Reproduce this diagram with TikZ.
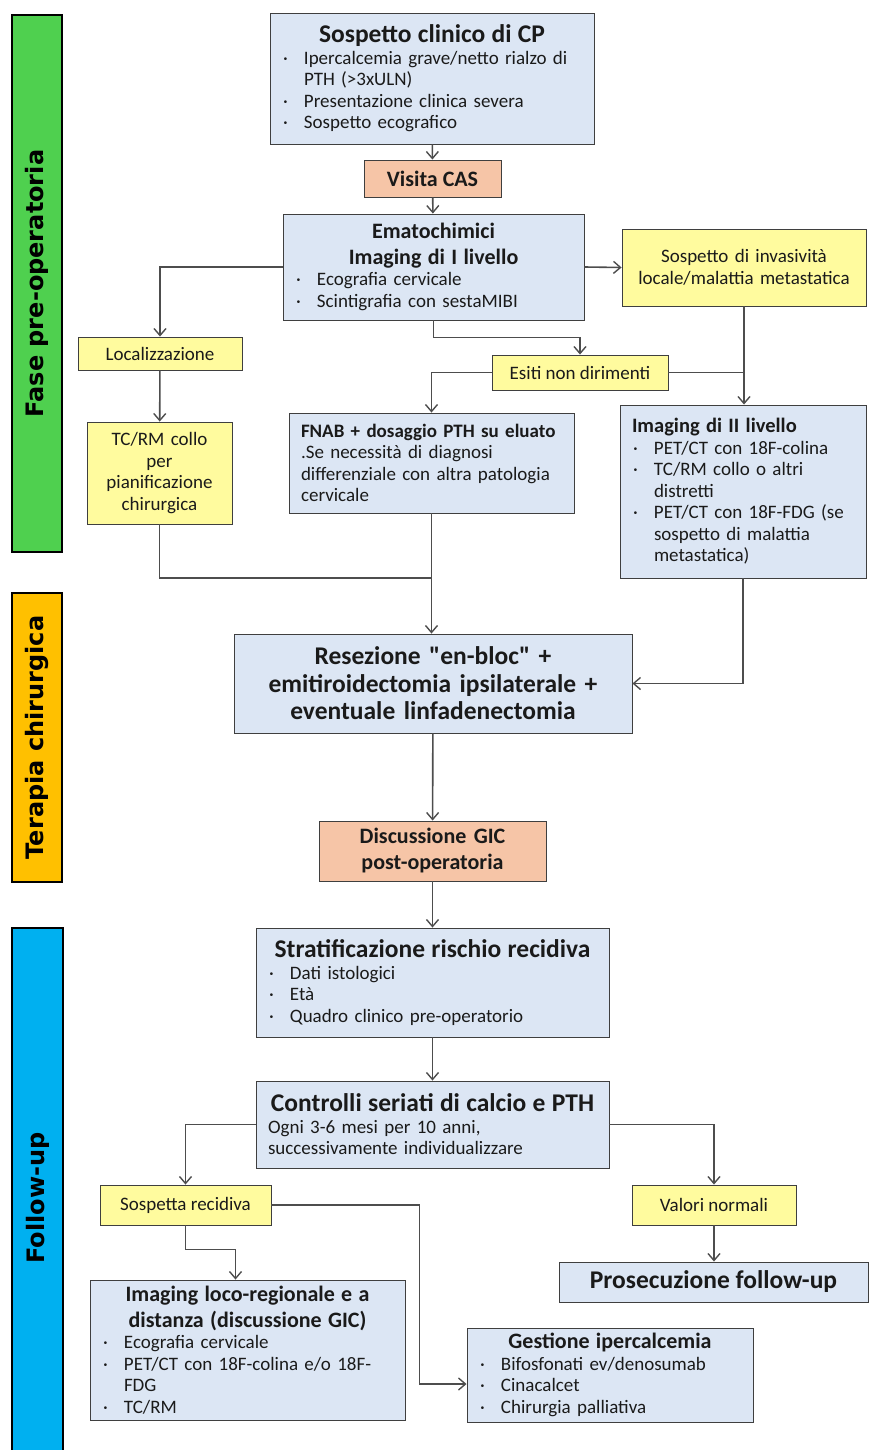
\documentclass[tikz,border=0pt]{standalone}
\usepackage{fontspec}
\setmainfont{Carlito}[Ligatures=TeXOff]
\newfontfamily\barfont{DejaVu Sans}
\usetikzlibrary{arrows.meta,positioning,calc}

\definecolor{azzurro}{HTML}{DCE6F4}
\definecolor{giallino}{HTML}{FFFB9E}
\definecolor{salmone}{HTML}{F6C5A7}
\definecolor{verde}{HTML}{4FD04F}
\definecolor{arancio}{HTML}{FFC000}
\definecolor{celeste}{HTML}{00B0F0}
\definecolor{bordo}{HTML}{3F3F3F}
\definecolor{freccia}{HTML}{4D4D4D}
\definecolor{testo}{HTML}{1A1A1A}

\hyphenpenalty=10000
\exhyphenpenalty=10000

\newcommand{\corpo}{\fontsize{19}{21.5}\selectfont}
\newcommand{\titgr}[1]{{\centering\fontsize{25.5}{29}\selectfont\bfseries #1\par}}
\newcommand{\titolo}[1]{{\centering\fontsize{22}{25.5}\selectfont\bfseries #1\par}}
\newcommand{\titsx}[1]{{\fontsize{19}{22}\selectfont\bfseries #1\par}}
\newcommand{\voce}[1]{\par\hangindent=22pt\hangafter=1\noindent\hbox to 22pt{\hskip1pt ·\hss}#1\par}

\begin{document}
\begin{tikzpicture}[x=1pt, y=-1pt,
  scatola/.style={draw=bordo, line width=0.9pt, fill=azzurro, inner xsep=12pt, inner ysep=3pt, align=left, font=\corpo, text=testo},
  giallo/.style={scatola, fill=giallino, align=center},
  rosa/.style={scatola, fill=salmone, align=center},
  barra/.style={draw=black, line width=2.5pt, rotate=90, text=black, font=\barfont\fontsize{24}{28}\selectfont\bfseries},
  conn/.style={draw=freccia, line width=1.6pt},
  >={Straight Barb[length=7pt,width=12pt,line width=1.4pt]}]

\useasboundingbox (0,0) rectangle (870,1450);

% Barre delle fasi
\node[barra, fill=verde, minimum width=537pt, minimum height=50pt] (fase1) at (37,283.5) {Fase pre-operatoria};
\node[barra, fill=arancio, minimum width=289pt, minimum height=50pt] (fase2) at (37,737.5) {Terapia chirurgica};
\node[barra, fill=celeste, minimum width=540pt, minimum height=51pt] (fase3) at (37.5,1198) {Follow-up};

% Fase pre-operatoria
\node[scatola, text width=300pt, minimum height=131pt] (sosp) at (432,78.5)
  {\titgr{Sospetto clinico di CP}\voce{Ipercalcemia grave/netto rialzo di\newline PTH (>3xULN)}\voce{Presentazione clinica severa}\voce{Sospetto ecografico}};
\node[rosa, minimum width=137pt, minimum height=37pt, font=\fontsize{22}{25}\selectfont\bfseries] (cas) at (432.5,178.5) {Visita CAS};
\node[scatola, text width=277pt, minimum height=106pt] (emato) at (433.5,267)
  {\titolo{Ematochimici\\Imaging di I livello}\voce{Ecografia cervicale}\voce{Scintigrafia con sestaMIBI}};
\node[giallo, text width=220pt, minimum height=77pt] (invas) at (744,267.5) {Sospetto di invasività\\locale/malattia metastatica};
\node[giallo, minimum width=164pt, minimum height=33pt] (loc) at (160,353.5) {Localizzazione};
\node[giallo, minimum width=176pt, minimum height=35pt] (esiti) at (580,372.5) {Esiti non dirimenti};
\node[giallo, text width=121pt, minimum height=102pt] (tcrm) at (159.5,473) {TC/RM collo\\per\\pianificazione\\chirurgica};
\node[scatola, text width=261pt, minimum height=100pt] (fnab) at (431.5,463)
  {\titsx{FNAB + dosaggio PTH su eluato}.Se necessità di diagnosi\\differenziale con altra patologia\\cervicale};
\node[scatola, text width=222pt, minimum height=173pt] (img2) at (743,491.5)
  {{\fontsize{20.5}{22.5}\selectfont\bfseries Imaging di II livello\par}\voce{PET/CT con 18F-colina}\voce{TC/RM collo o altri\newline distretti}\voce{PET/CT con 18F-FDG (se\newline sospetto di malattia\newline metastatica)}};

% Terapia chirurgica
\node[scatola, text width=374pt, minimum height=99pt, align=center, font=\fontsize{25.5}{27.5}\selectfont\bfseries] (resez) at (433,683.5)
  {Resezione "en-bloc" +\\emitiroidectomia ipsilaterale +\\eventuale linfadenectomia};
\node[rosa, text width=203pt, minimum height=60pt, font=\fontsize{22}{26}\selectfont\bfseries] (gic) at (432.5,851) {Discussione GIC\\post-operatoria};

% Follow-up
\node[scatola, text width=329pt, minimum height=109pt] (strat) at (432.5,982.5)
  {\titgr{Stratificazione rischio recidiva}\voce{Dati istologici}\voce{Età}\voce{Quadro clinico pre-operatorio}};
\node[scatola, text width=329pt, minimum height=87pt] (contr) at (432.5,1124.5)
  {\titgr{Controlli seriati di calcio e PTH}Ogni 3-6 mesi per 10 anni,\\successivamente individualizzare};
\node[giallo, minimum width=171pt, minimum height=40pt] (recid) at (185.5,1205) {Sospetta recidiva};
\node[giallo, minimum width=164pt, minimum height=40pt] (valori) at (714,1205) {Valori normali};
\node[scatola, text width=291pt, minimum height=140pt, inner ysep=1pt] (imgloc) at (247.5,1350)
  {\titolo{Imaging loco-regionale e a\\distanza (discussione GIC)}\voce{Ecografia cervicale}\voce{PET/CT con 18F-colina e/o 18F-\newline FDG}\voce{TC/RM}};
\node[scatola, minimum width=309pt, minimum height=40pt, font=\fontsize{25.5}{29}\selectfont\bfseries] (prosec) at (713.5,1282) {Prosecuzione follow-up};
\node[scatola, text width=262pt, minimum height=94pt] (gest) at (610,1375)
  {\titolo{Gestione ipercalcemia}\voce{Bifosfonati ev/denosumab}\voce{Cinacalcet}\voce{Chirurgia palliativa}};

% Punti di raccordo
\coordinate (merge) at (432,578);
\coordinate (gin) at ([yshift=-9pt]gest.west);

% Frecce fase pre-operatoria
\draw[conn, ->] (sosp) -- (cas);
\draw[conn, ->] (cas) -- (emato);
\draw[conn, ->] (emato.west) -| (loc.north);
\draw[conn, ->] (emato.east) -- (invas.west);
\draw[conn, ->] (emato.south) -- ++(0,17) -| (esiti.north);
\draw[conn, ->] (esiti.west) -| (fnab.north);
\draw[conn] (esiti.east) -- (esiti.east -| invas.south);
\draw[conn, ->] (invas.south) -- (img2.north -| invas.south);
\draw[conn, ->] (loc) -- (tcrm);

% Frecce verso la chirurgia
\draw[conn] (tcrm.south) |- (merge);
\draw[conn, ->] (fnab.south) -- (resez.north -| fnab.south);
\draw[conn, ->] (img2.south) |- (resez.east);
\draw[conn, ->] (resez) -- (gic);

% Frecce follow-up
\draw[conn, ->] (gic) -- (strat);
\draw[conn, ->] (strat) -- (contr);
\draw[conn, ->] (contr.west) -| (recid.north);
\draw[conn, ->] (contr.east) -| (valori.north);
\draw[conn, ->] (recid.south) -- ++(0,24) -| ([xshift=-12pt]imgloc.north);
\draw[conn, ->] (recid.east) -| ([xshift=-47pt]gin) -- (gin);
\draw[conn, ->] (valori) -- (prosec.north -| valori.south);

\end{tikzpicture}
\end{document}
